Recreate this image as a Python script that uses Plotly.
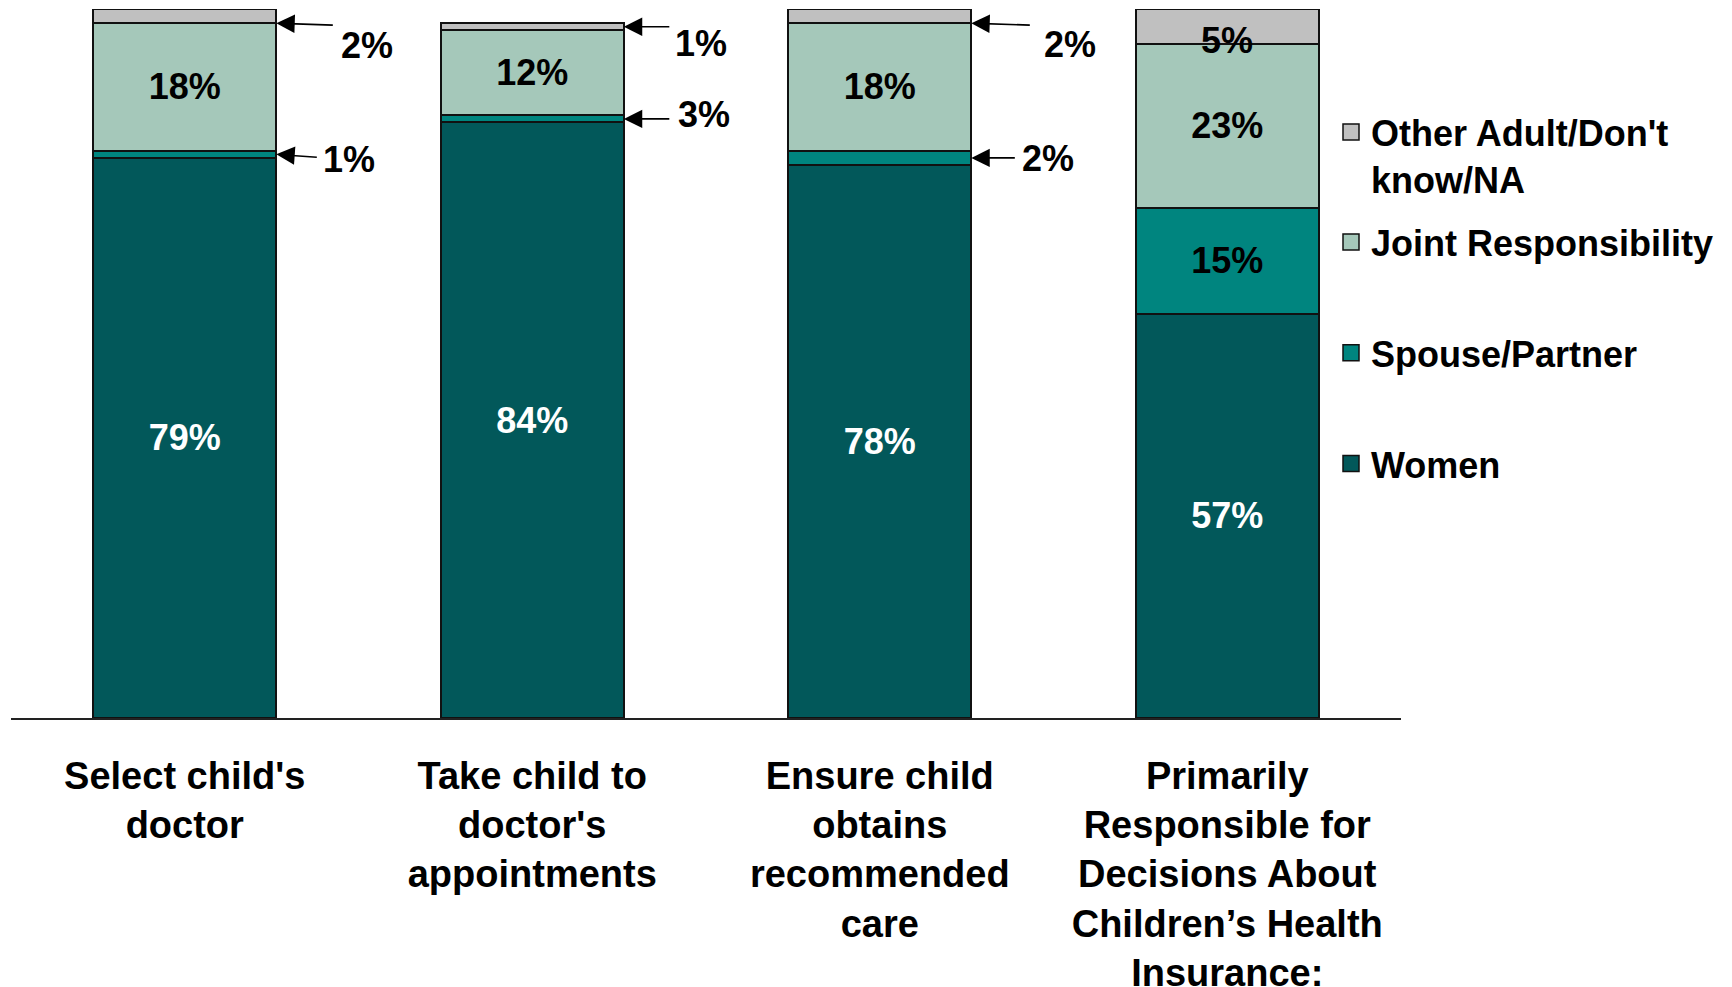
import plotly.graph_objects as go

categories = ["Select child's doctor", "Take child to doctor's appointments",
              "Ensure child obtains recommended care",
              "Primarily Responsible for Decisions About Children’s Health Insurance:"]
tick_labels = ["Select child's<br>doctor",
               "Take child to<br>doctor's<br>appointments",
               "Ensure child<br>obtains<br>recommended<br>care",
               "Primarily<br>Responsible for<br>Decisions About<br>Children’s Health<br>Insurance:"]
women = [79, 84, 78, 57]
spouse = [1, 1, 2, 15]
joint = [18, 12, 18, 23]
other = [2, 1, 2, 5]
women_labels = ["79%", "84%", "78%", "57%"]
spouse_labels = ["1%", "3%", "2%", "15%"]
joint_labels = ["18%", "12%", "18%", "23%"]
other_labels = ["2%", "1%", "2%", "5%"]

C_WOMEN = "#02585A"
C_SPOUSE = "#00857F"
C_JOINT = "#A5C8BA"
C_OTHER = "#C0C0C0"
FONT = "Liberation Sans, Arial, sans-serif"
BAR_W = 0.527
LBL = 36

fig = go.Figure()

def bar(name, vals, color, text, tcolor):
    fig.add_trace(go.Bar(
        x=list(range(len(categories))), y=vals, name=name, width=BAR_W,
        marker=dict(color=color, line=dict(color="#111111", width=2)),
        text=text, textposition="inside", insidetextanchor="middle",
        constraintext="none", textangle=0,
        textfont=dict(family=FONT, size=LBL, color=tcolor, weight="bold"),
        showlegend=False, hoverinfo="skip"))

bar("Women", women, C_WOMEN, women_labels, "white")
bar("Spouse/Partner", spouse, C_SPOUSE, ["", "", "", spouse_labels[3]], "black")
bar("Joint Responsibility", joint, C_JOINT, joint_labels, "black")
bar("Other Adult/Don't know/NA", other, C_OTHER, None, "black")

# legend proxies
leg_items = [("Other Adult/Don't<br>know/NA", C_OTHER, "legend"),
             ("Joint Responsibility", C_JOINT, "legend2"),
             ("Spouse/Partner", C_SPOUSE, "legend2"),
             ("Women", C_WOMEN, "legend2")]
for i, (nm, col, lg) in enumerate(leg_items):
    fig.add_trace(go.Scatter(
        x=[None], y=[None], mode="markers", name=nm, legend=lg,
        legendgroup=f"g{i}", legendrank=i,
        marker=dict(symbol="square", size=16, color=col,
                    line=dict(color="#111111", width=1.5)),
        showlegend=True, hoverinfo="skip"))

# in-bar label for the top segment of the last bar
bottoms_other = [w + s + j for w, s, j in zip(women, spouse, joint)]
fig.add_annotation(x=3, y=bottoms_other[3], text=other_labels[3], showarrow=False,
                   yshift=4, font=dict(family=FONT, size=LBL, color="black", weight="bold"))

# callouts with arrows
af = dict(family=FONT, size=LBL, color="black", weight="bold")
callouts = [
    # (cat, value, ax, ay, text, text dx, text dy)
    (0, bottoms_other[0], 58, 2, other_labels[0], 91, 22),
    (0, women[0] + spouse[0] / 2, 42, 3, spouse_labels[0], 73, 5),
    (1, bottoms_other[1] + other[1] / 2, 47, 0, other_labels[1], 77, 17),
    (1, women[1] + spouse[1] / 2, 47, 0, spouse_labels[1], 80, -4),
    (2, bottoms_other[2], 60, 2, other_labels[2], 99, 21),
    (2, women[2] + spouse[2] / 2, 45, 0, spouse_labels[2], 77, 1),
]
for cat, val, ax, ay, txt, dx, dy in callouts:
    xe = cat + BAR_W / 2
    fig.add_annotation(x=xe, y=val, ax=ax, ay=ay, axref="pixel", ayref="pixel",
                       text="", showarrow=True, arrowhead=2, arrowsize=2.3,
                       arrowwidth=1.6, arrowcolor="black", standoff=0)
    fig.add_annotation(x=xe, y=val, text=txt, showarrow=False, xshift=dx, yshift=-dy,
                       font=af)

fig.update_layout(
    width=1732, height=987,
    margin=dict(l=3, r=339, t=1, b=277, autoexpand=False),
    barmode="stack", bargap=0.47,
    plot_bgcolor="white", paper_bgcolor="white",
    font=dict(family=FONT, color="black"),
    xaxis=dict(tickmode="array", tickvals=list(range(len(categories))), ticktext=tick_labels,
               range=[-0.5, 3.5], showline=True, linecolor="#222222", linewidth=2,
               ticks="", showgrid=False, zeroline=False, ticklabelstandoff=23,
               automargin=False,
               tickfont=dict(family=FONT, size=38, color="black", weight="bold")),
    yaxis=dict(range=[0, 100], visible=False, showgrid=False, zeroline=False,
               automargin=False),
    legend=dict(x=(1331 - 8 - 3) / 1390, xanchor="left", y=0.8688, yanchor="top",
                valign="top",
                font=dict(family=FONT, size=36, color="black", weight="bold"),
                bgcolor="rgba(0,0,0,0)", tracegroupgap=0),
    legend2=dict(x=(1331 - 8 - 3) / 1390, xanchor="left", y=0.7137, yanchor="top",
                 valign="middle",
                 font=dict(family=FONT, size=36, color="black", weight="bold"),
                 bgcolor="rgba(0,0,0,0)", tracegroupgap=61),
)

fig.write_html("out.html")
